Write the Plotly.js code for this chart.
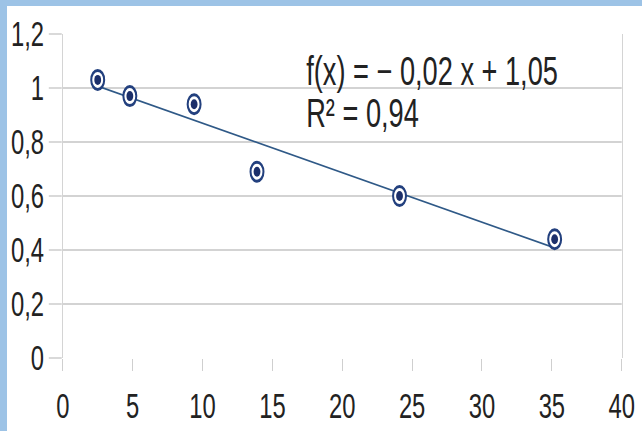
<!DOCTYPE html>
<html>
<head>
<meta charset="utf-8">
<script src="https://cdn.plot.ly/plotly-3.0.1.min.js"></script>
<style>
html,body{margin:0;padding:0;background:#9dc3e6;overflow:hidden;width:642px;height:431px}
#wrap{position:absolute;left:7px;top:6px;width:635px;height:425px;background:#fff;overflow:hidden}
#plot{width:934px;height:425px;transform:scaleX(0.68);transform-origin:0 0}
</style>
</head>
<body>
<div id="wrap"><div id="plot"></div></div>
<script>
// data
const xValues = [2.5, 4.8, 9.4, 13.9, 24.1, 35.2];
const yValues = [1.03, 0.97, 0.94, 0.69, 0.60, 0.44];
const xTicks = [0, 5, 10, 15, 20, 25, 30, 35, 40];
const yTicks = [0, 0.2, 0.4, 0.6, 0.8, 1, 1.2];
const equationLabel = "f(x) = \u2212 0,02 x + 1,05";
const r2Label = "R\u00B2 = 0,94";

// least-squares trend line over the data range
const n = xValues.length;
const mx = xValues.reduce((a, b) => a + b, 0) / n;
const my = yValues.reduce((a, b) => a + b, 0) / n;
let sxy = 0, sxx = 0;
for (let i = 0; i < n; i++) { sxy += (xValues[i] - mx) * (yValues[i] - my); sxx += (xValues[i] - mx) ** 2; }
const slope = sxy / sxx, intercept = my - slope * mx;
const xFit = [Math.min(...xValues), Math.max(...xValues)];
const yFit = xFit.map(x => intercept + slope * x);

const font = {family: "Liberation Sans, Arial, sans-serif", size: 35, color: "#222"};
const annFont = {family: "Liberation Sans, Arial, sans-serif", size: 40, color: "#222"};

const traces = [
  {x: xFit, y: yFit, type: "scatter", mode: "lines", line: {color: "#2f5987", width: 1.8}, hoverinfo: "skip"},
  {x: xValues, y: yValues, type: "scatter", mode: "markers",
   marker: {symbol: "circle", size: 19, color: "#ffffff", line: {color: "#23407e", width: 3}}},
  {x: xValues, y: yValues, type: "scatter", mode: "markers",
   marker: {symbol: "circle", size: 10, color: "#1c2f6a", line: {width: 0}}}
];

const layout = {
  width: 934, height: 425,
  margin: {l: 82, r: 30, t: 28, b: 73},
  paper_bgcolor: "#ffffff", plot_bgcolor: "#ffffff",
  showlegend: false,
  separators: ", ",
  font: font,
  xaxis: {
    range: [0, 40], tickvals: xTicks, ticktext: xTicks.map(String),
    showgrid: false, zeroline: false, showline: false,
    ticks: "outside", ticklen: 12, tickwidth: 1.5, tickcolor: "#cfcfcf",
    ticklabelstandoff: 5,
    tickfont: font
  },
  yaxis: {
    range: [0, 1.2], tickvals: yTicks,
    showgrid: true, gridcolor: "#c4c4c4", gridwidth: 1.3,
    zeroline: false, showline: true, mirror: true, linecolor: "#d4d4d4", linewidth: 1.5,
    ticks: "outside", ticklen: 19, tickwidth: 1.3, tickcolor: "#c4c4c4",
    tickfont: font
  },
  annotations: [
    {x: 17.3, y: 1.062, xref: "x", yref: "y", text: equationLabel, showarrow: false,
     xanchor: "left", yanchor: "middle", font: annFont},
    {x: 17.3, y: 0.906, xref: "x", yref: "y", text: r2Label, showarrow: false,
     xanchor: "left", yanchor: "middle", font: annFont}
  ]
};

Plotly.newPlot("plot", traces, layout, {displayModeBar: false, staticPlot: true});
</script>
</body>
</html>
